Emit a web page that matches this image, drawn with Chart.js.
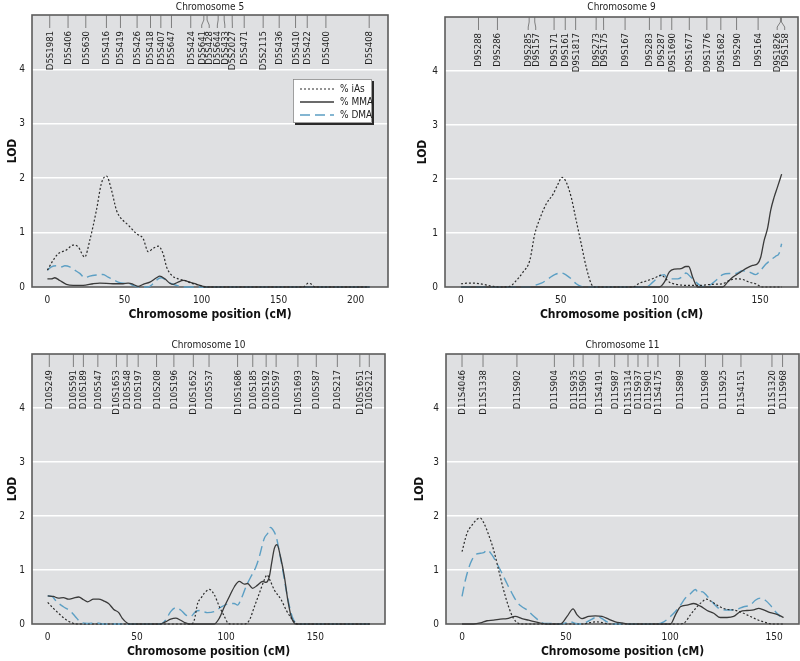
<!DOCTYPE html>
<html><head><meta charset="utf-8">
<script src="https://cdn.jsdelivr.net/npm/chart.js@4.4.0/dist/chart.umd.min.js"></script>
<style>
html,body{margin:0;padding:0;background:#fff;}
#wrap{position:relative;width:800px;height:661px;overflow:hidden;background:#fff;}
canvas{position:absolute;}
</style></head><body>
<div id="wrap">
<canvas id="c5" width="400" height="330" style="left:0;top:0"></canvas>
<canvas id="c9" width="400" height="330" style="left:400px;top:0"></canvas>
<canvas id="c10" width="400" height="331" style="left:0;top:330px"></canvas>
<canvas id="c11" width="400" height="331" style="left:400px;top:330px"></canvas>
</div>
<script>
// ---------------- DATA ----------------
const seriesNames = ['% iAs', '% MMA', '% DMA'];
const yTicks = [0, 1, 2, 3, 4];

// Chromosome 5
const chr5Ticks = [0, 50, 100, 150, 200];
const chr5Markers = ["D5S1981","D5S406","D5S630","D5S416","D5S419","D5S426","D5S418","D5S407","D5S647","D5S424","D5S641","D5S428","D5S644","D5S433","D5S2027","D5S471","D5S2115","D5S436","D5S410","D5S422","D5S400","D5S408"];
const chr5MarkerCM = [1.5,13.4,24.9,38.3,47.4,58.2,66.9,73.6,80.5,93,101.5,103.6,110.8,114.7,119.9,127.7,140,150.4,161,168.6,180.7,208.8];
const chr5_iAs = [[0,0.31],[3.5,0.48],[6.9,0.61],[12.3,0.68],[16.7,0.77],[19.9,0.74],[24.2,0.55],[27.5,0.86],[31.8,1.41],[35,1.9],[38.3,2.04],[41.6,1.78],[44.8,1.41],[47,1.29],[52.4,1.14],[57.8,0.98],[62.1,0.89],[65.4,0.65],[68.6,0.71],[71.9,0.75],[75.1,0.61],[77.3,0.37],[80.5,0.22],[84.8,0.15],[89.2,0.12],[93.5,0.07],[98.9,0.03],[103,0],[166,0],[169.3,0.07],[171.4,0.05],[173.6,0],[209,0]];
const chr5_MMA = [[0,0.15],[2.6,0.15],[4.8,0.17],[8,0.12],[12.3,0.05],[16.7,0.03],[23.2,0.03],[29.7,0.06],[34,0.07],[42.6,0.06],[49.1,0.06],[52.4,0.07],[55.6,0.05],[58.9,0.01],[62.1,0.05],[66.5,0.09],[70.8,0.17],[72.9,0.2],[76.2,0.15],[79.4,0.07],[81.6,0.05],[84.8,0.09],[88.1,0.12],[92.4,0.09],[96.8,0.05],[101,0.01],[103,0],[209,0]];
const chr5_DMA = [[0,0.31],[2.6,0.37],[5.8,0.39],[9.1,0.37],[11.3,0.39],[14.5,0.37],[17.7,0.31],[21,0.25],[24.2,0.17],[27.5,0.2],[31.8,0.22],[36.1,0.23],[39.4,0.18],[42.6,0.14],[45.9,0.09],[49.1,0.07],[52.4,0.07],[55.6,0.03],[60,0],[65.4,0],[68.6,0.06],[71.9,0.15],[74,0.17],[77.3,0.12],[80.5,0.06],[83.8,0.03],[88,0],[209,0]];

// Chromosome 9
const chr9Ticks = [0, 50, 100, 150];
const chr9Markers = ["D9S288","D9S286","D9S285","D9S157","D9S171","D9S161","D9S1817","D9S273","D9S175","D9S167","D9S283","D9S287","D9S1690","D9S1677","D9S1776","D9S1682","D9S290","D9S164","D9S1826","D9S158"];
const chr9MarkerCM = [8.8,18.3,34.2,37,46.7,52.3,57.5,67.8,71.5,82.3,94.5,100.3,105.7,114.5,123.3,130.3,138.2,149,160.2,160.7];
const chr9_iAs = [[0,0.06],[2.8,0.07],[7,0.07],[11.2,0.05],[16.2,0.01],[19.5,0],[24.5,0.01],[27,0.09],[31.2,0.28],[34.5,0.49],[37,0.98],[39.5,1.26],[42.8,1.54],[46.2,1.72],[48.7,1.91],[50.7,2.03],[52.8,1.94],[55.3,1.66],[57.8,1.23],[60.3,0.8],[62.8,0.37],[65.3,0.06],[67,0],[86.2,0],[89.5,0.07],[93.7,0.12],[97.8,0.18],[100.3,0.22],[102,0.18],[104.5,0.09],[107.8,0.05],[112.8,0.03],[119.5,0.03],[126.2,0.05],[131.2,0.06],[134.5,0.12],[137.8,0.15],[141.2,0.14],[144.5,0.09],[147.8,0.06],[151.2,0],[161,0]];
const chr9_MMA = [[0,0],[99.5,0],[102,0.09],[104.5,0.28],[107,0.33],[110.3,0.34],[112.8,0.38],[114.2,0.38],[116.2,0.18],[118.7,0],[131.2,0],[133.7,0.09],[136.2,0.18],[139.5,0.26],[142.8,0.34],[146.2,0.4],[148.7,0.43],[150.3,0.55],[152,0.86],[153.7,1.08],[155.3,1.42],[157,1.66],[158.7,1.85],[160.8,2.09]];
const chr9_DMA = [[0,0],[34.5,0],[37.8,0.04],[40.3,0.07],[43.7,0.15],[47,0.23],[50.3,0.26],[52.8,0.22],[55.3,0.15],[57.8,0.06],[60.3,0.01],[62.8,0],[92.8,0],[96.2,0.09],[99.5,0.2],[102,0.23],[103.7,0.15],[106.2,0.15],[108.7,0.15],[111.2,0.2],[112.8,0.26],[115.3,0.18],[117.8,0.09],[121.2,0.01],[124.5,0.03],[127.8,0.12],[131.2,0.23],[134.5,0.25],[137.8,0.25],[141.2,0.3],[144.5,0.28],[147.8,0.23],[150.3,0.31],[152.8,0.42],[155.3,0.5],[157.8,0.57],[159.5,0.62],[160.8,0.8]];

// Chromosome 10
const chr10Ticks = [0, 50, 100, 150];
const chr10Markers = ["D10S249","D10S591","D10S189","D10S547","D10S1653","D10S548","D10S197","D10S208","D10S196","D10S1652","D10S537","D10S1686","D10S185","D10S192","D10S597","D10S1693","D10S587","D10S217","D10S1651","D10S212"];
const chr10MarkerCM = [0.9,14.4,20,28.1,38.5,44.5,50.7,61,70.7,81.6,90.4,106.4,114.9,122.4,128,140.2,150.5,162.3,174.9,180.2];
const chr10_iAs = [[0,0.4],[3.2,0.29],[7,0.17],[10.7,0.07],[14.5,0.01],[16.3,0],[80.2,0],[82.1,0.07],[84,0.38],[85.9,0.48],[87.8,0.57],[90.6,0.64],[93.4,0.54],[96.2,0.32],[99,0.14],[100.9,0.02],[102.8,0],[110.2,0],[113,0.07],[115.8,0.32],[118.6,0.57],[121.4,0.82],[122.9,0.91],[124.8,0.79],[127,0.63],[130.8,0.45],[133.6,0.26],[136.4,0.11],[139.2,0.01],[140,0],[180.5,0]];
const chr10_MMA = [[0,0.52],[3.2,0.51],[6,0.48],[8.8,0.49],[11.6,0.46],[14.4,0.48],[17.3,0.5],[20.1,0.45],[22.3,0.41],[25.7,0.46],[28.5,0.46],[31.3,0.43],[34.1,0.38],[37,0.27],[39.8,0.21],[41.7,0.11],[44.5,0.02],[46.3,0],[63.2,0],[66,0.04],[68.9,0.09],[71.7,0.11],[74.5,0.07],[77.3,0.02],[79.2,0],[93.4,0],[96.2,0.11],[99,0.32],[101.8,0.51],[104.6,0.69],[107.3,0.79],[110.2,0.74],[112,0.75],[114.8,0.66],[117.6,0.72],[120.5,0.79],[122.3,0.77],[124.2,0.88],[125.5,1.13],[127,1.4],[128.5,1.47],[130.4,1.25],[132.6,0.88],[134.5,0.45],[136.4,0.14],[138.3,0.01],[139.2,0],[180.5,0]];
const chr10_DMA = [[0,0.52],[2.3,0.51],[5.1,0.41],[8.8,0.32],[12.6,0.24],[15.4,0.14],[18.2,0.04],[22,0.01],[27.6,0.02],[31.3,0],[63.2,0],[66,0.07],[68.9,0.23],[71.7,0.3],[74.5,0.26],[77.3,0.17],[80.1,0.14],[82.9,0.23],[85.7,0.25],[89.5,0.21],[93.2,0.23],[97,0.31],[100.8,0.37],[104.5,0.38],[106.4,0.35],[108.2,0.45],[111.1,0.69],[113.9,0.88],[116.7,1.06],[118.6,1.25],[121.4,1.59],[123.3,1.68],[124.8,1.79],[126.1,1.75],[128,1.62],[129.8,1.34],[131.7,1.0],[133.6,0.63],[135.5,0.32],[137.3,0.11],[139.2,0.01],[140,0],[180.5,0]];

// Chromosome 11
const chr11Ticks = [0, 50, 100, 150];
const chr11Markers = ["D11S4046","D11S1338","D11S902","D11S904","D11S935","D11S905","D11S4191","D11S987","D11S1314","D11S937","D11S901","D11S4175","D11S898","D11S908","D11S925","D11S4151","D11S1320","D11S968"];
const chr11MarkerCM = [0,10.1,26.4,44.4,53.7,58.2,65.9,73.4,79.8,84.6,89.4,94.2,104.6,117,125.3,134.1,149,154.1];
const chr11_iAs = [[0,1.34],[2.4,1.68],[4.8,1.83],[7.2,1.94],[8.8,1.96],[10.4,1.88],[12.8,1.65],[15.2,1.37],[17.6,1.0],[20,0.63],[22.4,0.32],[24.8,0.1],[27.2,0.01],[28.8,0],[58.5,0],[60.9,0.02],[64.9,0.04],[68.1,0.02],[70.5,0],[105,0],[107.4,0.04],[109.8,0.17],[113,0.32],[115.4,0.41],[117.5,0.46],[120.2,0.41],[123.4,0.33],[127.4,0.27],[130.6,0.26],[134.6,0.21],[138.6,0.14],[142.6,0.07],[146.6,0.02],[149,0],[154.6,0]];
const chr11_MMA = [[0,0],[5.6,0],[8.8,0.02],[12,0.06],[15.2,0.07],[18.4,0.09],[21.6,0.1],[25.6,0.14],[28.8,0.1],[32,0.07],[35.3,0.04],[38.5,0.01],[40.9,0],[47.3,0],[50.5,0.14],[53.4,0.28],[55.3,0.17],[57.7,0.1],[60.9,0.14],[64.1,0.15],[67.3,0.14],[70.5,0.09],[73.7,0.04],[76.9,0.02],[80.1,0],[100.2,0],[102.6,0.17],[105,0.32],[108.2,0.35],[111.4,0.38],[114.6,0.33],[117.8,0.25],[121,0.2],[124.2,0.12],[127.4,0.12],[130.6,0.14],[133.8,0.23],[137,0.25],[140.2,0.26],[142.6,0.29],[145,0.26],[148.2,0.21],[151.4,0.18],[154.6,0.12]];
const chr11_DMA = [[0,0.51],[1.6,0.81],[4,1.12],[6.4,1.28],[8.8,1.31],[10.4,1.32],[12,1.37],[14.4,1.28],[16.8,1.12],[19.2,0.94],[21.6,0.75],[24,0.57],[26.4,0.41],[28.8,0.32],[31.3,0.26],[33.7,0.17],[36.1,0.09],[38.5,0.02],[40.9,0.01],[44.1,0.01],[47.3,0],[49.7,0.02],[52.1,0.04],[54.5,0.01],[57.7,0],[60.1,0.04],[62.5,0.09],[65.2,0.14],[67.3,0.1],[69.7,0.04],[72.9,0],[93.8,0],[97,0.04],[100.2,0.14],[102.6,0.23],[105,0.35],[107.4,0.48],[109.8,0.56],[112.2,0.64],[113.8,0.57],[115.4,0.6],[117.8,0.52],[120.2,0.41],[123.4,0.29],[126.6,0.26],[129.8,0.26],[132.2,0.27],[135.4,0.32],[138.6,0.35],[141,0.44],[143.4,0.48],[145.8,0.44],[148.2,0.35],[150.6,0.23],[153,0.14]];

// ---------------- STYLE / LAYOUT ----------------
const FONT = "'Liberation Sans Narrow','DejaVu Sans Condensed','Arial Narrow',sans-serif";
Chart.defaults.font.family = FONT;
Chart.defaults.color = '#222';
const PLOT_BG = '#dfe0e2';
const seriesStyle = [
  {color: '#2b2b2b', dash: [2, 2], width: 1.2},
  {color: '#3a3a3a', dash: [], width: 1.3},
  {color: '#5c9fc4', dash: [10, 5], width: 1.4}
];

const panels = [
  {id: 'c5', title: 'Chromosome 5', ticks: chr5Ticks, names: chr5Markers, cm: chr5MarkerCM,
   series: [chr5_iAs, chr5_MMA, chr5_DMA], xMin: -10, xMax: 221, titleY: 7,
   pad: {left: 0, top: 15, right: 12, bottom: 0}, yW: 32, xH: 43, yTitlePad: 6, xTitlePad: 8, legend: true},
  {id: 'c9', title: 'Chromosome 9', ticks: chr9Ticks, names: chr9Markers, cm: chr9MarkerCM,
   series: [chr9_iAs, chr9_MMA, chr9_DMA], xMin: -8, xMax: 169, titleY: 7,
   pad: {left: 0, top: 17, right: 2, bottom: 0}, yW: 45, xH: 43, yTitlePad: 16, xTitlePad: 8},
  {id: 'c10', title: 'Chromosome 10', ticks: chr10Ticks, names: chr10Markers, cm: chr10MarkerCM,
   series: [chr10_iAs, chr10_MMA, chr10_DMA], xMin: -8.8, xMax: 189, titleY: 15,
   pad: {left: 0, top: 24, right: 15, bottom: 0}, yW: 32, xH: 37, yTitlePad: 6, xTitlePad: 2},
  {id: 'c11', title: 'Chromosome 11', ticks: chr11Ticks, names: chr11Markers, cm: chr11MarkerCM,
   series: [chr11_iAs, chr11_MMA, chr11_DMA], xMin: -7.7, xMax: 162, titleY: 15,
   pad: {left: 0, top: 24, right: 1, bottom: 0}, yW: 46, xH: 37, yTitlePad: 13, xTitlePad: 2}
];

function spread(xs, gap) {
  const out = xs.slice();
  for (let it = 0; it < 200; it++) {
    let moved = false;
    for (let i = 1; i < out.length; i++) {
      const d = out[i] - out[i - 1];
      if (d < gap - 0.01) {
        const m = (gap - d) / 2;
        out[i - 1] -= m; out[i] += m; moved = true;
      }
    }
    if (!moved) break;
  }
  return out;
}

function makeDecor(p) {
  return {
    id: 'decor_' + p.id,
    beforeDraw(chart) {
      const {ctx, chartArea: a} = chart;
      ctx.save();
      ctx.fillStyle = PLOT_BG;
      ctx.fillRect(a.left, a.top, a.right - a.left, a.bottom - a.top);
      ctx.restore();
    },
    beforeDatasetsDraw(chart) {
      const {ctx, chartArea: a} = chart;
      ctx.save();
      ctx.strokeStyle = '#5c5c5c';
      ctx.lineWidth = 1.6;
      ctx.strokeRect(a.left, a.top, a.right - a.left, a.bottom - a.top);
      ctx.restore();
    },
    afterDatasetsDraw(chart) {
      const {ctx, chartArea: a, scales} = chart;
      const xs = scales.x;
      ctx.save();
      // title
      ctx.fillStyle = '#222';
      ctx.font = '10px ' + FONT;
      ctx.textAlign = 'center';
      ctx.textBaseline = 'middle';
      ctx.fillText(p.title, (a.left + a.right) / 2, p.titleY);
      // markers
      const mx = p.cm.map(v => xs.getPixelForValue(v));
      const lx = spread(mx, 7.5);
      ctx.strokeStyle = '#666';
      ctx.lineWidth = 0.8;
      for (let i = 0; i < mx.length; i++) {
        ctx.beginPath();
        ctx.moveTo(mx[i], a.top);
        ctx.lineTo(mx[i], a.top + 5);
        ctx.lineTo(lx[i], a.top + 10);
        ctx.lineTo(lx[i], a.top + 13);
        ctx.stroke();
        ctx.save();
        ctx.translate(lx[i], a.top + 16);
        ctx.rotate(-Math.PI / 2);
        ctx.textAlign = 'right';
        ctx.textBaseline = 'middle';
        ctx.fillStyle = '#222';
        ctx.font = '9.5px ' + FONT;
        ctx.fillText(p.names[i], 0, 0.5);
        ctx.restore();
      }
      // legend
      if (p.legend) {
        const L = {x: a.right - 95, y: a.top + 64, w: 79, h: 44};
        ctx.fillStyle = '#2a2a2a';
        ctx.fillRect(L.x + 2, L.y + 2, L.w, L.h);
        ctx.fillStyle = '#fff';
        ctx.fillRect(L.x, L.y, L.w, L.h);
        ctx.strokeStyle = '#888';
        ctx.lineWidth = 0.8;
        ctx.strokeRect(L.x + 0.5, L.y + 0.5, L.w - 1, L.h - 1);
        chart.data.datasets.forEach((ds, i) => {
          const yy = L.y + 10 + i * 13;
          ctx.save();
          ctx.strokeStyle = ds.borderColor;
          ctx.lineWidth = ds.borderWidth;
          ctx.setLineDash(ds.borderDash || []);
          ctx.beginPath();
          ctx.moveTo(L.x + 7, yy);
          ctx.lineTo(L.x + 41, yy);
          ctx.stroke();
          ctx.restore();
          ctx.fillStyle = '#222';
          ctx.font = '10px ' + FONT;
          ctx.textAlign = 'left';
          ctx.textBaseline = 'middle';
          ctx.fillText(ds.label, L.x + 47, yy);
        });
      }
      ctx.restore();
    }
  };
}

panels.forEach(p => {
  const datasets = p.series.map((s, i) => ({
    label: seriesNames[i],
    data: s.map(([x, y]) => ({x, y})),
    borderColor: seriesStyle[i].color,
    borderDash: seriesStyle[i].dash,
    borderWidth: seriesStyle[i].width,
    pointRadius: 0,
    fill: false,
    cubicInterpolationMode: 'monotone',
    clip: false
  }));
  new Chart(document.getElementById(p.id), {
    type: 'line',
    data: {datasets},
    plugins: [makeDecor(p)],
    options: {
      responsive: false,
      animation: false,
      devicePixelRatio: 1,
      layout: {padding: p.pad},
      plugins: {legend: {display: false}, tooltip: {enabled: false}, title: {display: false}},
      scales: {
        x: {
          type: 'linear', min: p.xMin, max: p.xMax,
          afterFit: s => { s.height = p.xH; },
          afterBuildTicks: s => { s.ticks = p.ticks.map(v => ({value: v})); },
          grid: {display: false, drawTicks: false},
          border: {display: false},
          ticks: {font: {size: 10}, color: '#222', padding: 7, maxRotation: 0, autoSkip: false},
          title: {display: true, text: 'Chromosome position (cM)', font: {size: 12, weight: 'bold'}, color: '#111',
                  padding: {top: 0, bottom: p.xTitlePad}}
        },
        y: {
          type: 'linear', min: 0, max: 5,
          afterFit: s => { s.width = p.yW; },
          afterBuildTicks: s => { s.ticks = [0, 1, 2, 3, 4, 5].map(v => ({value: v})); },
          grid: {drawTicks: false, lineWidth: 1.5,
                 color: c => (c.tick && c.tick.value >= 1 && c.tick.value <= 4) ? '#ffffff' : 'rgba(0,0,0,0)'},
          border: {display: false},
          ticks: {font: {size: 10}, color: '#222', padding: 7,
                  callback: v => yTicks.includes(v) ? String(v) : ''},
          title: {display: true, text: 'LOD', font: {size: 12, weight: 'bold'}, color: '#111',
                  padding: {top: p.yTitlePad, bottom: 0}}
        }
      }
    }
  });
});
</script>
</body></html>
